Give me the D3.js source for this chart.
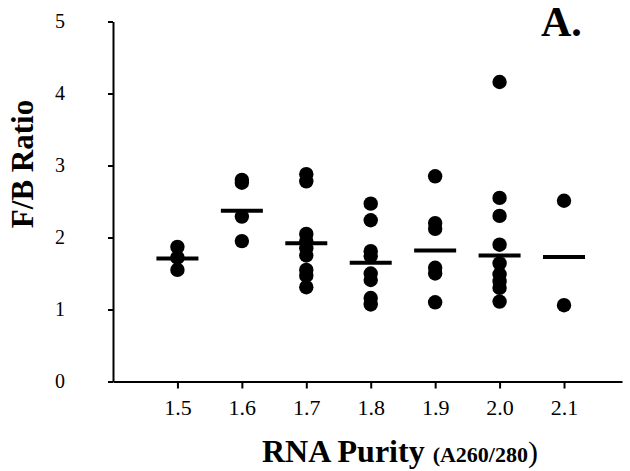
<!DOCTYPE html>
<html>
<head>
<meta charset="utf-8">
<script src="https://cdn.jsdelivr.net/npm/d3@7"></script>
<style>
  body { margin: 0; background: #fff; }
  svg text { font-family: "Liberation Serif", "Times New Roman", serif; }
</style>
</head>
<body>
<div id="chart"></div>
<script>
// RNA purity groups and the F/B ratio of each sample
const purity = [1.5, 1.6, 1.7, 1.8, 1.9, 2.0, 2.1];
const ratios = [
    [1.87, 1.72, 1.55],
    [2.80, 2.76, 2.29, 1.95],
    [2.88, 2.78, 2.05, 1.95, 1.85, 1.75, 1.55, 1.47, 1.31],
    [2.47, 2.24, 1.81, 1.74, 1.50, 1.41, 1.16, 1.07],
    [2.85, 2.20, 2.12, 1.58, 1.50, 1.10],
    [4.16, 2.55, 2.30, 1.90, 1.64, 1.49, 1.39, 1.30, 1.11],
    [2.51, 1.06]
];
// group mean lines as drawn
const means = [1.71, 2.37, 1.92, 1.65, 1.82, 1.75, 1.73];
const yTicks = [0, 1, 2, 3, 4, 5];

let
    width = 630,
    height = 471,
    svg = d3.select('#chart')
        .append('svg')
        .attr('width', width)
        .attr('height', height),

    x = d3.scaleLinear().domain([1.4, 2.19]).range([113, 622]),
    y = d3.scaleLinear().domain([0, 5]).range([381.5, 21.5]);

// y axis
let yAxis = svg.append('g')
    .attr('transform', 'translate(113,0)')
    .call(d3.axisLeft(y).tickValues(yTicks).tickSize(5).tickSizeOuter(0).tickFormat(d3.format('d')));

yAxis.select('.domain').attr('stroke-width', 2);
yAxis.selectAll('.tick line').attr('stroke-width', 2);
yAxis.selectAll('.tick text')
    .attr('x', -53)
    .attr('text-anchor', 'middle')
    .style('font-size', '20px')
    .attr('fill', '#000');

// x axis
let xAxis = svg.append('g')
    .attr('transform', 'translate(0,381.5)')
    .call(d3.axisBottom(x).tickValues(purity).tickSize(7).tickSizeOuter(0).tickFormat(d3.format('.1f')));

xAxis.select('.domain').attr('stroke-width', 2);
xAxis.selectAll('.tick line').attr('stroke-width', 2);
xAxis.selectAll('.tick text')
    .attr('y', 18)
    .style('font-size', '22px')
    .attr('fill', '#000');

// points
purity.forEach(function (p, i) {
    svg.append('g')
        .selectAll('circle')
        .data(ratios[i])
        .join('circle')
        .attr('cx', x(p))
        .attr('cy', d => y(d))
        .attr('r', 7.2)
        .style('fill', '#000');
});

// mean bars
svg.append('g')
    .selectAll('line')
    .data(means)
    .join('line')
    .attr('x1', (d, i) => x(purity[i]) - 21)
    .attr('x2', (d, i) => x(purity[i]) + 21)
    .attr('y1', d => y(d))
    .attr('y2', d => y(d))
    .attr('stroke', '#000')
    .attr('stroke-width', 4);

// y title
svg.append('text')
    .attr('transform', 'translate(33,164) rotate(-90)')
    .attr('text-anchor', 'middle')
    .style('font-size', '31px')
    .style('font-weight', 700)
    .text('F/B Ratio');

// x title
let xt = svg.append('text')
    .attr('x', 262)
    .attr('y', 462)
    .style('font-weight', 700);

xt.append('tspan').style('font-size', '32px').text('RNA Purity ');
xt.append('tspan').style('font-size', '22px').text('(A260/280');
xt.append('tspan').style('font-size', '30px').style('font-weight', 400).text(')');

// panel letter
svg.append('text')
    .attr('x', 541)
    .attr('y', 36)
    .style('font-size', '42px')
    .style('font-weight', 700)
    .text('A.');
</script>
</body>
</html>
